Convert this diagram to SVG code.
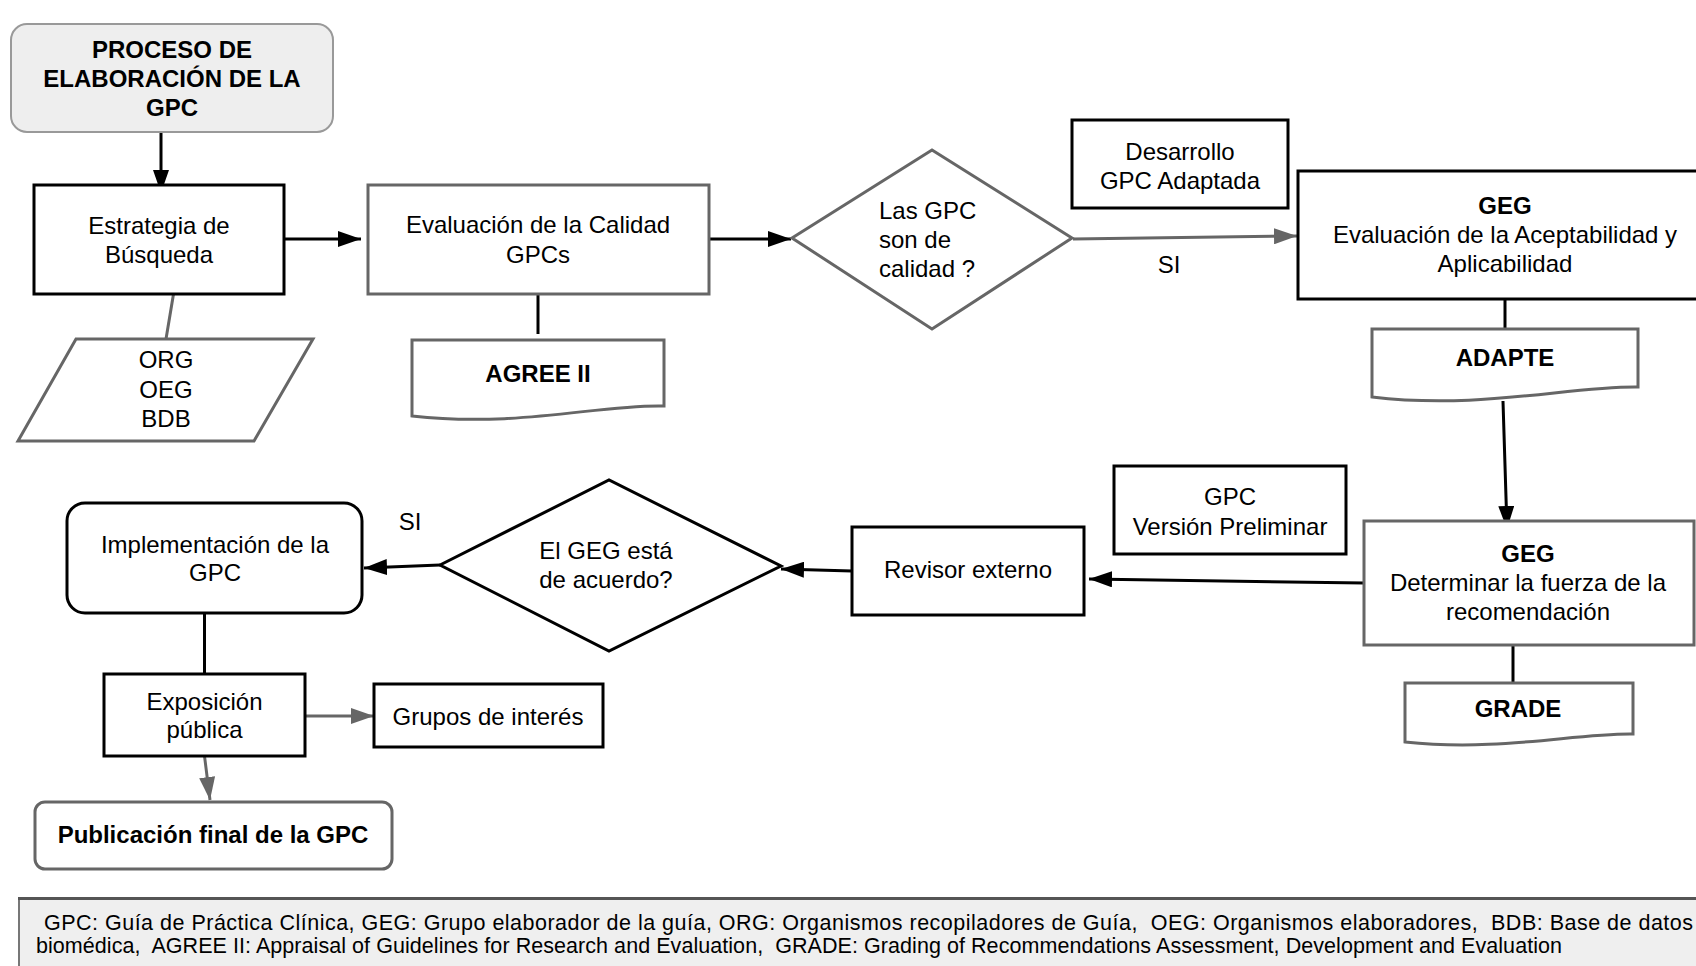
<svg xmlns="http://www.w3.org/2000/svg" width="1696" height="966" viewBox="0 0 1696 966">
<style>
text{font-family:"Liberation Sans",Arial,sans-serif;font-size:24px;fill:#000;text-anchor:middle}
.b{font-weight:bold}
.l{text-anchor:start}
.leg{font-size:21.5px;text-anchor:start;white-space:pre}
.kb{fill:#fff;stroke:#000;stroke-width:3}
.gb{fill:#fff;stroke:#666;stroke-width:3}
.ck{fill:none;stroke:#000;stroke-width:3}
.cg{fill:none;stroke:#666;stroke-width:3}
</style>
<defs>
<marker id="ak" markerUnits="userSpaceOnUse" markerWidth="23" markerHeight="16" refX="23" refY="8" orient="auto"><path d="M0,0 L23,8 L0,16 Z" fill="#000"/></marker>
<marker id="ag" markerUnits="userSpaceOnUse" markerWidth="23" markerHeight="16" refX="23" refY="8" orient="auto"><path d="M0,0 L23,8 L0,16 Z" fill="#666"/></marker>
</defs>
<rect width="1696" height="966" fill="#fff"/>

<g id="connectors">
<line class="ck" x1="161" y1="128" x2="161" y2="193" marker-end="url(#ak)"/>
<line class="ck" x1="279" y1="239" x2="361" y2="239" marker-end="url(#ak)"/>
<line class="ck" x1="709" y1="239" x2="791" y2="239" marker-end="url(#ak)"/>
<line class="cg" x1="1073" y1="239" x2="1297" y2="236" marker-end="url(#ag)"/>
<line class="ck" x1="1505" y1="299" x2="1505" y2="329"/>
<line class="ck" x1="1503" y1="401" x2="1507" y2="529" marker-end="url(#ak)"/>
<line class="ck" x1="1513" y1="645" x2="1513" y2="683"/>
<line class="ck" x1="1364" y1="583" x2="1089" y2="579" marker-end="url(#ak)"/>
<line class="ck" x1="852" y1="571" x2="781" y2="569" marker-end="url(#ak)"/>
<line class="ck" x1="440" y1="565" x2="364" y2="568" marker-end="url(#ak)"/>
<line class="ck" x1="204.5" y1="613" x2="204.5" y2="674"/>
<line class="cg" x1="305" y1="716" x2="374" y2="716" marker-end="url(#ag)"/>
<line class="cg" x1="204.5" y1="756" x2="210" y2="800" marker-end="url(#ag)"/>
<line class="cg" x1="173.5" y1="294" x2="166" y2="339"/>
<line class="ck" x1="538" y1="295" x2="538" y2="334"/>
<text x="1169" y="273">SI</text>
<text x="410" y="530">SI</text>
</g>

<g id="n-title">
<rect x="11" y="24" width="322" height="108" rx="16" fill="#eeeeee" stroke="#999" stroke-width="2"/>
<text class="b" x="172" y="58">PROCESO DE</text>
<text class="b" x="172" y="87">ELABORACIÓN DE LA</text>
<text class="b" x="172" y="116">GPC</text>
</g>

<g id="n-estrategia">
<rect class="kb" x="34" y="185" width="250" height="109"/>
<text x="159" y="234">Estrategia de</text>
<text x="159" y="263">Búsqueda</text>
</g>

<g id="n-fuentes">
<polygon class="gb" points="76,339 313,339 254,441 18,441"/>
<text x="166" y="368">ORG</text>
<text x="166" y="398">OEG</text>
<text x="166" y="427">BDB</text>
</g>

<g id="n-evaluacion">
<rect class="gb" x="368" y="185" width="341" height="109"/>
<text x="538" y="233">Evaluación de la Calidad</text>
<text x="538" y="263">GPCs</text>
</g>

<g id="n-agree">
<path class="gb" d="M412,340 H664 V406 C600,404 520,428 412,416 Z"/>
<text class="b" x="538" y="382">AGREE II</text>
</g>

<g id="n-calidad">
<polygon class="gb" points="792,238 932,150 1072,238 932,329"/>
<text class="l" x="879" y="219">Las GPC</text>
<text class="l" x="879" y="248">son de</text>
<text class="l" x="879" y="277">calidad ?</text>
</g>

<g id="n-desarrollo">
<rect class="kb" x="1072" y="120" width="216" height="88"/>
<text x="1180" y="160">Desarrollo</text>
<text x="1180" y="189">GPC Adaptada</text>
</g>

<g id="n-geg1">
<rect class="kb" x="1298" y="171" width="420" height="128"/>
<text class="b" x="1505" y="214">GEG</text>
<text x="1505" y="243">Evaluación de la Aceptabilidad y</text>
<text x="1505" y="272">Aplicabilidad</text>
</g>

<g id="n-adapte">
<path class="gb" d="M1372,329 H1638 V387 C1570,386 1480,410 1372,397 Z"/>
<text class="b" x="1505" y="366">ADAPTE</text>
</g>

<g id="n-geg2">
<rect class="gb" x="1364" y="521" width="330" height="124"/>
<text class="b" x="1528" y="562">GEG</text>
<text x="1528" y="591">Determinar la fuerza de la</text>
<text x="1528" y="620">recomendación</text>
</g>

<g id="n-grade">
<path class="gb" d="M1405,683 H1633 V734 C1575,733 1500,752 1405,742 Z"/>
<text class="b" x="1518" y="717">GRADE</text>
</g>

<g id="n-preliminar">
<rect class="kb" x="1114" y="466" width="232" height="88"/>
<text x="1230" y="505">GPC</text>
<text x="1230" y="535">Versión Preliminar</text>
</g>

<g id="n-revisor">
<rect class="kb" x="852" y="527" width="232" height="88"/>
<text x="968" y="578">Revisor externo</text>
</g>

<g id="n-acuerdo">
<polygon class="kb" points="440,565 609,480 781,566 609,651"/>
<text x="606" y="559">El GEG está</text>
<text x="606" y="588">de acuerdo?</text>
</g>

<g id="n-implementacion">
<rect class="kb" x="67" y="503" width="295" height="110" rx="18"/>
<text x="215" y="553">Implementación de la</text>
<text x="215" y="581">GPC</text>
</g>

<g id="n-exposicion">
<rect class="kb" x="104" y="674" width="201" height="82"/>
<text x="204.5" y="710">Exposición</text>
<text x="204.5" y="738">pública</text>
</g>

<g id="n-grupos">
<rect class="kb" x="374" y="684" width="229" height="63"/>
<text x="488" y="725">Grupos de interés</text>
</g>

<g id="n-publicacion">
<rect class="gb" x="35" y="802" width="357" height="67" rx="10"/>
<text class="b" x="213" y="843">Publicación final de la GPC</text>
</g>

<g id="legend">
<rect x="19" y="898" width="1690" height="80" fill="#efefef" stroke="#777" stroke-width="2"/>
<line x1="18" y1="898.5" x2="1696" y2="898.5" stroke="#555" stroke-width="3"/>
<text class="leg" x="44" y="930" textLength="1649" lengthAdjust="spacing">GPC: Guía de Práctica Clínica, GEG: Grupo elaborador de la guía, ORG: Organismos recopiladores de Guía,  OEG: Organismos elaboradores,  BDB: Base de datos</text>
<text class="leg" x="36" y="953" textLength="1526" lengthAdjust="spacing">biomédica,  AGREE II: Appraisal of Guidelines for Research and Evaluation,  GRADE: Grading of Recommendations Assessment, Development and Evaluation</text>
</g>
</svg>
